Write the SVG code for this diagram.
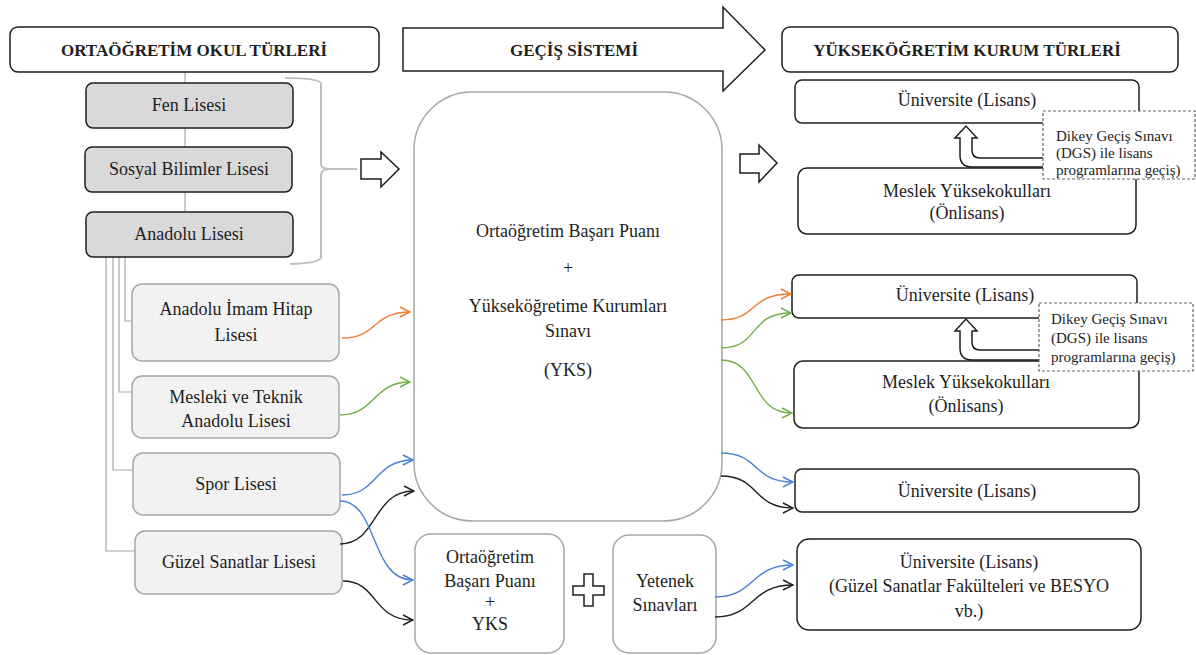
<svg xmlns="http://www.w3.org/2000/svg" width="1196" height="655" viewBox="0 0 1196 655" font-family="'Liberation Serif', 'DejaVu Serif', serif">
<style>
text{font-family:'Liberation Serif', 'DejaVu Serif', serif;fill:#1e1e1e;font-size:18px;text-anchor:middle}
.b{font-weight:bold;font-size:17px}
.s{font-size:15px;text-anchor:start}
.dk{fill:#fff;stroke:#1e1e1e;stroke-width:1.5}
.gr{fill:#d9d9d9;stroke:#1e1e1e;stroke-width:1.5}
.lt{fill:#f2f2f2;stroke:#a6a6a6;stroke-width:1.5}
.ln{fill:#fff;stroke:#a6a6a6;stroke-width:1.5}
.tree{fill:none;stroke:#a6a6a6;stroke-width:1.2}
.ds{fill:#fff;stroke:#666;stroke-width:1.2;stroke-dasharray:3 2}
.c{fill:none;stroke-width:1.4}
.or{stroke:#ed7d31}.gn{stroke:#70ad47}.bl{stroke:#4a7fd4}.bk{stroke:#1e1e1e}
.blk{fill:#fff;stroke:#1e1e1e;stroke-width:1.5;stroke-linejoin:miter}
</style>
<defs>
<marker id="mo" viewBox="0 0 12 12" refX="11" refY="6" markerWidth="12" markerHeight="12" markerUnits="userSpaceOnUse" orient="auto"><path d="M1,1 L11,6 L1,11" fill="none" stroke="#ed7d31" stroke-width="1.4"/></marker>
<marker id="mg" viewBox="0 0 12 12" refX="11" refY="6" markerWidth="12" markerHeight="12" markerUnits="userSpaceOnUse" orient="auto"><path d="M1,1 L11,6 L1,11" fill="none" stroke="#70ad47" stroke-width="1.4"/></marker>
<marker id="mb" viewBox="0 0 12 12" refX="11" refY="6" markerWidth="12" markerHeight="12" markerUnits="userSpaceOnUse" orient="auto"><path d="M1,1 L11,6 L1,11" fill="none" stroke="#4a7fd4" stroke-width="1.4"/></marker>
<marker id="mk" viewBox="0 0 12 12" refX="11" refY="6" markerWidth="12" markerHeight="12" markerUnits="userSpaceOnUse" orient="auto"><path d="M1,1 L11,6 L1,11" fill="none" stroke="#1e1e1e" stroke-width="1.4"/></marker>
</defs>
<rect width="1196" height="655" fill="#fff"/>

<g id="tree-lines" class="tree">
<line x1="185" y1="72" x2="185" y2="258"/>
<path d="M125,257 V321 H132"/>
<path d="M119,257 V392 H132"/>
<path d="M113,257 V470 H133"/>
<path d="M106,257 V551 H135"/>
<path d="M285,78 Q321,78 321,84 V164 Q321,169 330,169 H357 M330,169 Q321,169 321,175 V257 Q321,263 290,264" stroke="#bfbfbf" stroke-width="2"/>
</g>

<g id="header-left"><rect class="dk" x="10" y="27" width="369" height="45" rx="8"/><text class="b" x="194" y="56">ORTAÖĞRETİM OKUL TÜRLERİ</text></g>
<g id="header-mid"><path class="blk" d="M403,28 H723 V7 L765,50 L723,91 V71 H403 Z"/><text class="b" x="574" y="56">GEÇİŞ SİSTEMİ</text></g>
<g id="header-right"><rect class="dk" x="782" y="27" width="396" height="45" rx="8"/><text class="b" x="967" y="56">YÜKSEKÖĞRETİM KURUM TÜRLERİ</text></g>

<g id="fen"><rect class="gr" x="86" y="83" width="207" height="45" rx="7"/><text x="189" y="111">Fen Lisesi</text></g>
<g id="sosyal"><rect class="gr" x="85" y="147" width="207" height="45" rx="7"/><text x="189" y="175">Sosyal Bilimler Lisesi</text></g>
<g id="anadolu"><rect class="gr" x="86" y="212" width="207" height="45" rx="7"/><text x="189" y="240">Anadolu Lisesi</text></g>

<g id="arrow-small-left"><path class="blk" d="M361,159 H381 V152 L399,169 L381,187 V179 H361 Z"/></g>

<g id="imam"><rect class="lt" x="132" y="284" width="207" height="77" rx="10"/><text x="236" y="315">Anadolu İmam Hitap</text><text x="236" y="341">Lisesi</text></g>
<g id="mesleki"><rect class="lt" x="132" y="376" width="207" height="62" rx="10"/><text x="236" y="403">Mesleki ve Teknik</text><text x="236" y="427">Anadolu Lisesi</text></g>
<g id="spor"><rect class="lt" x="133" y="453" width="207" height="62" rx="10"/><text x="236" y="490">Spor Lisesi</text></g>
<g id="guzel"><rect class="lt" x="135" y="531" width="207" height="63" rx="10"/><text x="239" y="568">Güzel Sanatlar Lisesi</text></g>

<g id="center"><rect class="ln" x="414" y="92" width="308" height="429" rx="58"/>
<text x="568" y="237">Ortaöğretim Başarı Puanı</text>
<text x="568" y="274" font-size="14">+</text>
<text x="568" y="312">Yükseköğretime Kurumları</text>
<text x="568" y="337">Sınavı</text>
<text x="568" y="376">(YKS)</text></g>

<g id="arrow-small-right"><path class="blk" d="M740,154 H759 V145 L777,163 L759,182 V173 H740 Z"/></g>

<g id="obp"><rect class="ln" x="415" y="534" width="149" height="119" rx="16"/>
<text x="490" y="563">Ortaöğretim</text><text x="490" y="587">Başarı Puanı</text><text x="490" y="608" font-size="13">+</text><text x="490" y="630">YKS</text></g>
<g id="plus"><path class="blk" d="M584,574 H593 V586 H604 V595 H593 V606 H584 V595 H573 V586 H584 Z"/></g>
<g id="yetenek"><rect class="ln" x="613" y="535" width="103" height="118" rx="16"/><text x="665" y="587">Yetenek</text><text x="665" y="611">Sınavları</text></g>

<g id="uni1"><rect class="dk" x="795" y="80" width="344" height="43" rx="7"/><text x="967" y="106">Üniversite (Lisans)</text></g>
<g id="myo1"><rect class="dk" x="798" y="168" width="338" height="66" rx="9"/><text x="967" y="197">Meslek Yüksekokulları</text><text x="967" y="219">(Önlisans)</text></g>
<g id="dgs1-arrow"><path class="blk" d="M1043,158 H980 Q972,158 972,150 V138 H977 L966,126 L955,138 H960 V155 Q960,167 972,167 H1043"/></g>
<g id="dgs1"><rect class="ds" x="1043" y="111" width="152" height="68"/><text class="s" x="1056" y="141">Dikey Geçiş Sınavı</text><text class="s" x="1056" y="158">(DGS) ile lisans</text><text class="s" x="1056" y="175">programlarına geçiş)</text></g>

<g id="uni2"><rect class="dk" x="792" y="275" width="345" height="43" rx="7"/><text x="965" y="301">Üniversite (Lisans)</text></g>
<g id="myo2"><rect class="dk" x="794" y="361" width="345" height="67" rx="9"/><text x="966" y="388">Meslek Yüksekokulları</text><text x="966" y="412">(Önlisans)</text></g>
<g id="dgs2-arrow"><path class="blk" d="M1039,350 H980 Q972,350 972,342 V331 H977 L966,319 L955,331 H960 V348 Q960,360 972,360 H1039"/></g>
<g id="dgs2"><rect class="ds" x="1039" y="303" width="154" height="68"/><text class="s" x="1051" y="324">Dikey Geçiş Sınavı</text><text class="s" x="1051" y="343">(DGS) ile lisans</text><text class="s" x="1051" y="362">programlarına geçiş)</text></g>

<g id="uni3"><rect class="dk" x="795" y="469" width="344" height="43" rx="7"/><text x="967" y="497">Üniversite (Lisans)</text></g>
<g id="uni4"><rect class="dk" x="797" y="539" width="344" height="91" rx="12"/><text x="969" y="568">Üniversite (Lisans)</text><text x="969" y="592">(Güzel Sanatlar Fakülteleri ve BESYO</text><text x="969" y="617">vb.)</text></g>

<g id="connectors">
<path class="c or" d="M342,338 C378,338 372,312 410,312" marker-end="url(#mo)"/>
<path class="c gn" d="M340,415 C376,415 372,382 410,382" marker-end="url(#mg)"/>
<path class="c bl" d="M342,495 C378,495 374,460 413,460" marker-end="url(#mb)"/>
<path class="c bk" d="M340,544 C378,544 372,491 414,491" marker-end="url(#mk)"/>
<path class="c bl" d="M340,501 C378,501 370,580 413,580" marker-end="url(#mb)"/>
<path class="c bk" d="M343,581 C378,581 372,620 413,620" marker-end="url(#mk)"/>
<path class="c or" d="M721,320 C758,320 748,294 791,294" marker-end="url(#mo)"/>
<path class="c gn" d="M721,348 C760,348 748,313 791,313" marker-end="url(#mg)"/>
<path class="c gn" d="M721,360 C760,360 750,413 792,413" marker-end="url(#mg)"/>
<path class="c bl" d="M721,453 C760,453 752,482 793,482" marker-end="url(#mb)"/>
<path class="c bk" d="M721,476 C760,476 752,508 793,508" marker-end="url(#mk)"/>
<path class="c bl" d="M715,597 C755,597 750,565 793,565" marker-end="url(#mb)"/>
<path class="c bk" d="M715,617 C755,617 750,585 793,585" marker-end="url(#mk)"/>
</g>
</svg>
